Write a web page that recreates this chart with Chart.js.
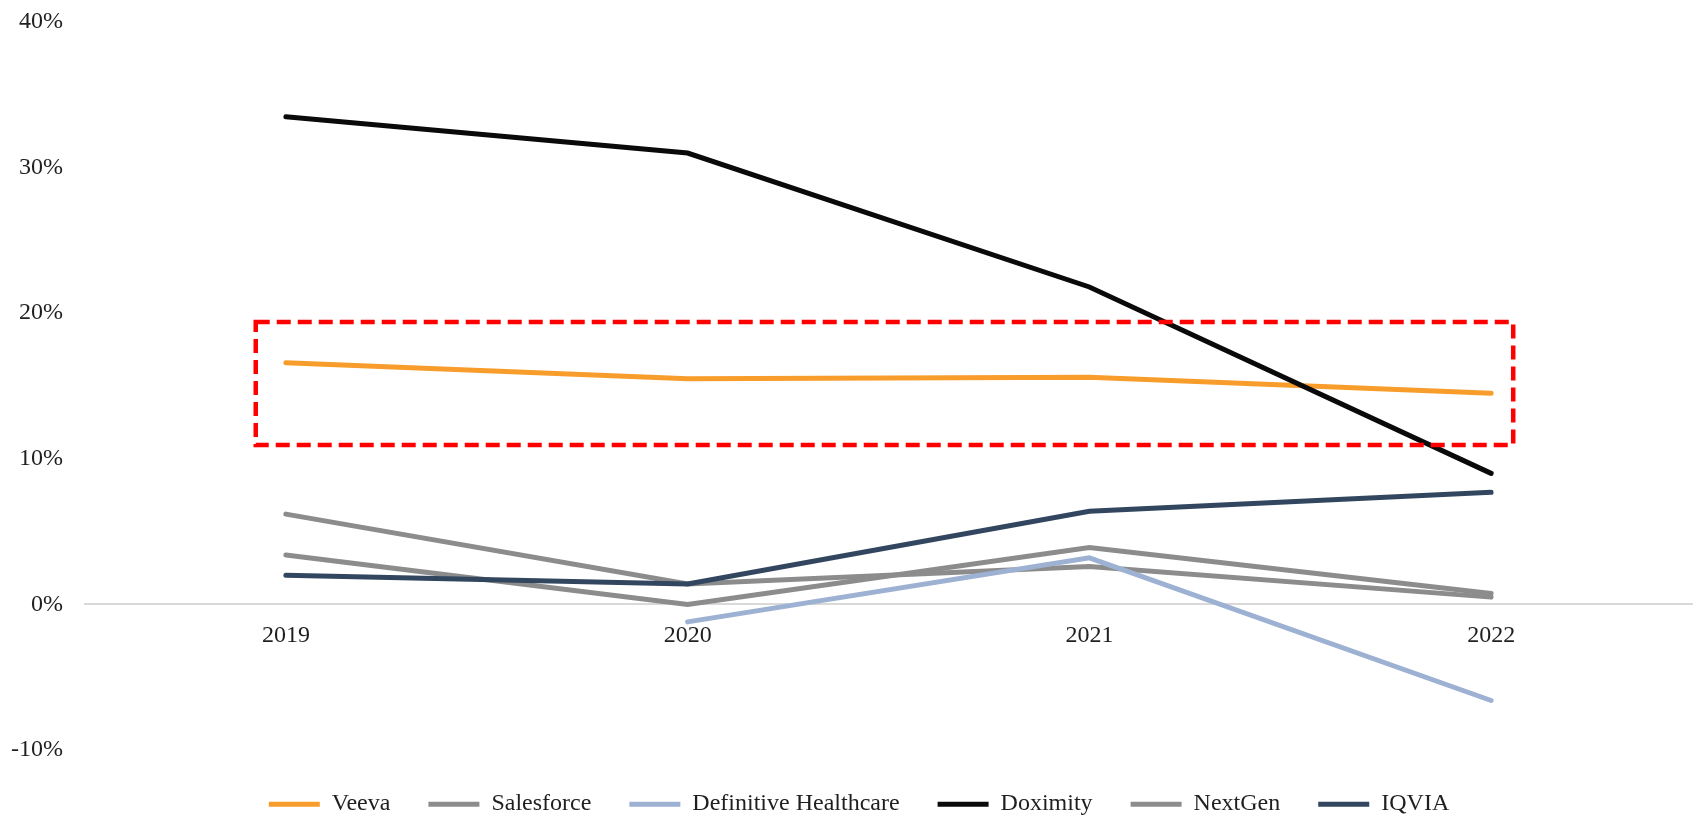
<!DOCTYPE html>
<html>
<head>
<meta charset="utf-8">
<script src="https://cdn.jsdelivr.net/npm/chart.js@4"></script>
<style>
  body { margin: 0; background: #fff; }
  #wrap { width: 1694px; height: 818px; }
</style>
</head>
<body>
<div id="wrap"><canvas id="marginChart"></canvas></div>
<script>
const years = ["2019", "2020", "2021", "2022"];

const veeva = [16.6, 15.5, 15.6, 14.5];
const salesforce = [6.2, 1.4, 2.6, 0.5];
const definitive = [null, -1.2, 3.2, -6.6];
const doximity = [33.5, 31.0, 21.8, 9.0];
const nextgen = [3.4, 0.0, 3.9, 0.75];
const iqvia = [2.0, 1.4, 6.4, 7.7];

const yTicks = [-10, 0, 10, 20, 30, 40];

// highlighted region (category index / percent)
const boxX = [-0.075, 3.055];
const boxY = [10.95, 19.4];

Chart.defaults.font.family = "'Liberation Serif', 'Times New Roman', serif";
Chart.defaults.font.size = 24;
Chart.defaults.color = "#1f1f1f";

function series(label, data, color, order) {
  return {
    label,
    data,
    borderColor: color,
    backgroundColor: color,
    borderWidth: 5,
    borderCapStyle: "round",
    pointRadius: 0,
    pointHoverRadius: 0,
    tension: 0,
    fill: false,
    order
  };
}

const highlightBox = {
  id: "highlightBox",
  afterDatasetsDraw(chart) {
    const x = chart.scales.x;
    const y = chart.scales.y;
    const ctx = chart.ctx;
    const left = x.getPixelForValue(boxX[0]);
    const right = x.getPixelForValue(boxX[1]);
    const top = y.getPixelForValue(boxY[1]);
    const bottom = y.getPixelForValue(boxY[0]);
    ctx.save();
    ctx.strokeStyle = "#ff0000";
    ctx.lineWidth = 4.5;
    ctx.setLineDash([14, 7]);
    ctx.strokeRect(left, top, right - left, bottom - top);
    ctx.restore();
  }
};

// nudge the legend row a little to the right, like the original
const legendShift = {
  id: "legendShift",
  afterLayout(chart) {
    chart.legend.left += 13;
    chart.legend.right += 13;
  }
};

new Chart(document.getElementById("marginChart"), {
  type: "line",
  data: {
    labels: years,
    datasets: [
      series("Veeva", veeva, "#f89d2b", 5),
      series("Salesforce", salesforce, "#8c8c8c", 4),
      series("Definitive Healthcare", definitive, "#9db1d3", 3),
      series("Doximity", doximity, "#0a0a0a", 2),
      series("NextGen", nextgen, "#8c8c8c", 1),
      series("IQVIA", iqvia, "#33465f", 0)
    ]
  },
  options: {
    responsive: true,
    maintainAspectRatio: false,
    animation: false,
    layout: { padding: { top: 22, right: 2, bottom: 0, left: 0 } },
    plugins: {
      tooltip: { enabled: false },
      legend: {
        position: "bottom",
        maxHeight: 68,
        title: { display: true, text: " ", font: { size: 1 }, padding: { top: 3, bottom: 0 } },
        labels: {
          usePointStyle: true,
          pointStyle: "line",
          pointStyleWidth: 51,
          padding: 38,
          color: "#1f1f1f",
          sort: (a, b) => a.datasetIndex - b.datasetIndex
        }
      }
    },
    scales: {
      x: {
        position: { y: 0 },
        offset: true,
        grid: { display: false, drawTicks: false },
        border: { display: true, color: "#d9d9d9", width: 2 },
        ticks: { padding: 17, maxRotation: 0 }
      },
      y: {
        min: yTicks[0],
        max: yTicks[yTicks.length - 1],
        grid: { display: false, drawTicks: false },
        border: { display: false },
        afterBuildTicks: scale => {
          scale.ticks = yTicks.map(v => ({ value: v }));
        },
        afterFit: scale => {
          scale.width = 85;
          scale.paddingTop = 0;
          scale.paddingBottom = 0;
        },
        ticks: {
          padding: 22,
          callback: v => v + "%"
        }
      }
    }
  },
  plugins: [highlightBox, legendShift]
});
</script>
</body>
</html>
